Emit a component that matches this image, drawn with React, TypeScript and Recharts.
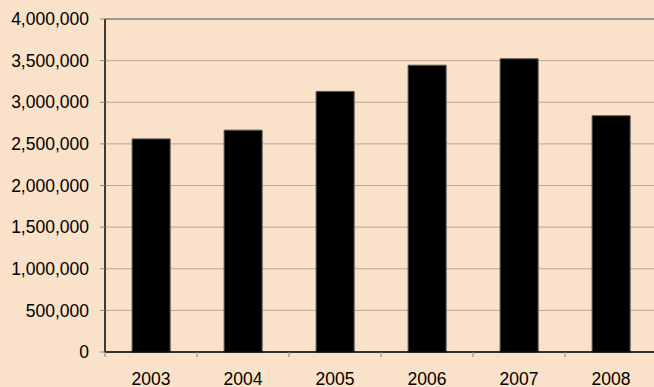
import React from "react";
import { BarChart, Bar, XAxis, YAxis, CartesianGrid, ReferenceLine } from "recharts";

const years = ["2003", "2004", "2005", "2006", "2007", "2008"];
const values = [2560000, 2665000, 3130000, 3445000, 3522000, 2838000];
const yTicks = [0, 500000, 1000000, 1500000, 2000000, 2500000, 3000000, 3500000, 4000000];

const data = years.map((y, i) => ({ year: y, value: values[i] }));

const FONT = "'Liberation Sans', Arial, sans-serif";
const BG = "#F9E1CA";

const fmt = (v: number) => v.toLocaleString("en-US");

const XTick = (props: any) => {
  const { x, y, payload } = props;
  const half = payload && payload.offset ? payload.offset : 46;
  return (
    <g>
      <line x1={x - half} x2={x - half} y1={y} y2={y + 5} stroke="#888" strokeWidth={1} />
      <text x={x} y={y + 33} textAnchor="middle" fontFamily={FONT} fontSize={17.5} fill="#000">
        {payload.value}
      </text>
    </g>
  );
};

export default function App() {
  return (
    <div style={{ position: "absolute", left: 0, top: 0, width: 654, height: 387, overflow: "hidden", background: BG }}>
      <BarChart
        width={657}
        height={387}
        data={data}
        margin={{ top: 19, right: 0, left: 0, bottom: 0 }}
        barCategoryGap="29.5%"
      >
        <CartesianGrid vertical={false} stroke="#BBA78F" strokeWidth={1} />
        <XAxis
          dataKey="year"
          height={35}
          tickLine={false}
          tickSize={0}
          tickMargin={0}
          axisLine={{ stroke: "#000", strokeWidth: 1.5 }}
          tick={<XTick />}
          interval={0}
        />
        <YAxis
          width={105}
          domain={[0, 4000000]}
          ticks={yTicks}
          interval={0}
          tickFormatter={fmt}
          tickSize={5}
          tickMargin={11}
          tickLine={{ stroke: "#888" }}
          axisLine={{ stroke: "#000", strokeWidth: 1.5 }}
          tick={{ fontFamily: FONT, fontSize: 17.5, fill: "#000" }}
        />
        <ReferenceLine y={4000000} stroke="#8A8A8A" strokeWidth={1.5} />
        <Bar dataKey="value" fill="#000" stroke="#555" strokeWidth={1} isAnimationActive={false} />
      </BarChart>
    </div>
  );
}
